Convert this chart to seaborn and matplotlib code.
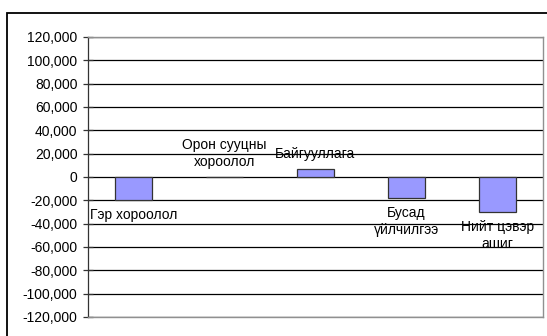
import matplotlib
matplotlib.use("Agg")
import matplotlib.pyplot as plt
import seaborn as sns
import pandas as pd
from matplotlib.patches import Rectangle
from matplotlib.ticker import FuncFormatter, MultipleLocator

categories = ["Гэр хороолол", "Орон сууцны\nхороолол", "Байгууллага", "Бусад\nүйлчилгээ", "Нийт цэвэр\nашиг"]
values = [-19700, 0, 6500, -17800, -29700]
yticks_min, yticks_max, ystep = -120000, 120000, 20000

sns.set_theme(style="white")
plt.rcParams['font.family'] = ['Liberation Sans', 'DejaVu Sans']

W, H = 547, 336
fig = plt.figure(figsize=(W / 100, H / 100), dpi=100)
ax = fig.add_axes([88 / W, 1 - 317 / H, (543 - 88) / W, (317 - 37) / H])

df = pd.DataFrame({"cat": categories, "val": values})
sns.barplot(data=df, x="cat", y="val", color="#9999FF", saturation=1, width=0.4,
            edgecolor="#333333", linewidth=0.9, ax=ax, zorder=3)

ax.set_ylim(yticks_min, yticks_max)
ax.yaxis.set_major_locator(MultipleLocator(ystep))
ax.yaxis.set_major_formatter(FuncFormatter(lambda v, p: f"{int(v):,}"))
ax.grid(axis="y", color="black", linewidth=0.9, zorder=0)
ax.set_axisbelow(True)
ax.set_xlabel("")
ax.set_ylabel("")
ax.set_xticks([])
ax.tick_params(axis="y", which="major", direction="inout", length=7, width=0.9,
               color="#333333", labelsize=10, pad=4, left=True, labelcolor="black")
for side in ["top", "right", "bottom"]:
    ax.spines[side].set_color("#909090")
    ax.spines[side].set_linewidth(1.0)
ax.spines["left"].set_color("#333333")
ax.spines["left"].set_linewidth(0.9)

for i, (c, v) in enumerate(zip(categories, values)):
    if v < 0:
        ax.annotate(c, xy=(i, v), xytext=(0, -6), textcoords="offset points",
                    ha="center", va="top", fontsize=10, color="black",
                    linespacing=1.25, zorder=4)
    else:
        ax.annotate(c, xy=(i, v), xytext=(0, 6), textcoords="offset points",
                    ha="center", va="bottom", fontsize=10, color="black",
                    linespacing=1.25, zorder=4)

fig.patches.append(Rectangle((7 / W, -0.05), 1.1, 1 - 13 / H + 0.05,
                             transform=fig.transFigure, fill=False,
                             edgecolor="black", linewidth=1.3))

fig.savefig("out.png", dpi=100)
